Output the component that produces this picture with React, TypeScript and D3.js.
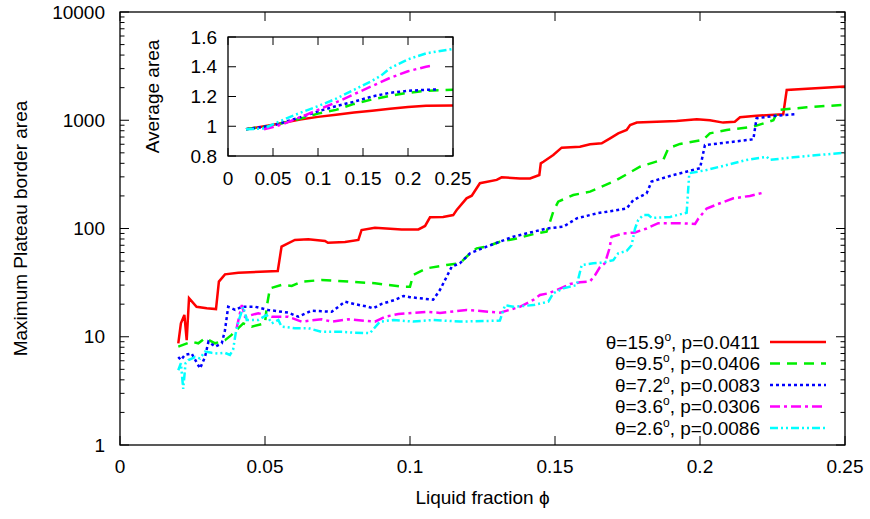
import React, { useEffect, useRef } from 'react';
import * as d3 from 'd3';

type Pt = [number, number];

// main panel: [liquid fraction, max Plateau border area]
const maxTheta159: Pt[] = [
  [0.0201, 8.7], [0.021, 13.3], [0.0222, 15.9], [0.023, 9.3], [0.0238, 22.7], [0.0264, 18.9],
  [0.0299, 18.3], [0.0331, 18.0], [0.0341, 32.3], [0.0362, 37.7], [0.0408, 39.1], [0.0544, 40.5],
  [0.0557, 67.9], [0.0603, 78.3], [0.0649, 79.4], [0.0707, 76.6], [0.0717, 73.7], [0.0776, 75],
  [0.0822, 78.3], [0.0833, 96.9], [0.0879, 101.8], [0.0971, 98.1], [0.1029, 98.1], [0.1052, 105.5],
  [0.1069, 126.8], [0.1114, 128], [0.1149, 133], [0.1161, 148], [0.1195, 190], [0.1213, 201],
  [0.1241, 262], [0.1299, 281], [0.1316, 297], [0.1379, 290], [0.1414, 290], [0.1446, 312],
  [0.1451, 400], [0.146, 414], [0.1494, 477], [0.1523, 558], [0.1586, 570], [0.1621, 599],
  [0.1661, 612], [0.169, 681], [0.1718, 757], [0.1747, 813], [0.1759, 904], [0.1782, 951],
  [0.1919, 984], [0.1989, 1021], [0.2034, 1000], [0.208, 951], [0.212, 970], [0.2138, 1065],
  [0.2195, 1101], [0.2287, 1135], [0.2299, 1905], [0.25, 2050],
];
const maxTheta95: Pt[] = [
  [0.0201, 8.1], [0.0247, 9.0], [0.027, 8.7], [0.0293, 9.7], [0.0328, 8.7], [0.0362, 9.3],
  [0.0385, 10.4], [0.0408, 12.0], [0.0425, 13.3], [0.0454, 12.4], [0.05, 13.3], [0.0506, 18.9],
  [0.0517, 28.0], [0.0557, 30.1], [0.0592, 29.5], [0.0626, 32.3], [0.0695, 33.4], [0.0788, 32.3],
  [0.0879, 31.2], [0.0971, 29.0], [0.1, 29.0], [0.1011, 37.2], [0.1058, 42.9], [0.1126, 46.0],
  [0.1172, 47.7], [0.1207, 59], [0.123, 65.6], [0.1264, 68], [0.131, 75.5], [0.1368, 81],
  [0.1437, 90.3], [0.1471, 93.4], [0.1483, 115.6], [0.1494, 143], [0.1511, 177], [0.1563, 204],
  [0.1621, 219], [0.1713, 281], [0.1793, 372], [0.1874, 435], [0.1891, 551], [0.1931, 604],
  [0.2011, 658], [0.2034, 757], [0.2092, 813], [0.2184, 873], [0.2253, 1000], [0.227, 1245],
  [0.2368, 1318], [0.25, 1390],
];
const maxTheta72: Pt[] = [
  [0.0201, 6.5], [0.021, 6.1], [0.0224, 6.8], [0.0247, 7.0], [0.0276, 5.1], [0.0293, 6.5],
  [0.0305, 9.0], [0.0328, 8.1], [0.0351, 8.7], [0.0362, 11.5], [0.0373, 18.9], [0.0397, 17.7],
  [0.042, 18.9], [0.0466, 18.9], [0.0511, 17.7], [0.058, 16.7], [0.0615, 15.3], [0.0661, 17.4],
  [0.073, 17.0], [0.0776, 21.1], [0.081, 20], [0.0856, 18.9], [0.0873, 18.3], [0.0902, 20.1],
  [0.0948, 21.9], [0.0977, 23.8], [0.1, 23.2], [0.108, 22.0], [0.1103, 27], [0.1115, 31.2],
  [0.1144, 44.4], [0.1172, 47.7], [0.1207, 59], [0.1264, 68], [0.1356, 84], [0.1437, 95],
  [0.1471, 100], [0.1529, 104], [0.1575, 124], [0.1644, 138], [0.1747, 153], [0.177, 183],
  [0.1816, 211], [0.1833, 271], [0.1908, 312], [0.2, 360], [0.2017, 590], [0.2069, 612],
  [0.2184, 667], [0.2195, 1042], [0.2253, 1094], [0.2328, 1135],
];
const maxTheta36: Pt[] = [
  [0.0402, 12], [0.042, 19.6], [0.0431, 15.3], [0.0477, 16.5], [0.0523, 15.3], [0.058, 15.3],
  [0.0626, 13.8], [0.0695, 14.5], [0.073, 13.8], [0.0787, 14.5], [0.0879, 13.8], [0.0914, 15.3],
  [0.096, 16.2], [0.1058, 17.0], [0.1103, 16.6], [0.1195, 17.7], [0.131, 16.7], [0.1379, 18.9],
  [0.1425, 21.9], [0.1448, 24.3], [0.1477, 25.2], [0.1506, 27], [0.1552, 30.7], [0.1586, 31.8],
  [0.1621, 32.5], [0.1638, 37], [0.1655, 44], [0.1672, 47.7], [0.1688, 65.6], [0.1695, 84],
  [0.1736, 90], [0.1776, 92], [0.1816, 100], [0.1856, 112], [0.1931, 112], [0.1983, 110],
  [0.1994, 123], [0.2023, 153], [0.2069, 171], [0.2115, 190], [0.2172, 200], [0.2218, 214],
];
const maxTheta26: Pt[] = [
  [0.0201, 4.9], [0.021, 5.7], [0.0218, 3.3], [0.0226, 5.7], [0.0236, 6.1], [0.0259, 6.5],
  [0.0276, 6.3], [0.0293, 7.3], [0.0316, 7.1], [0.0339, 7.0], [0.0362, 7.1], [0.0379, 6.8],
  [0.039, 7.6], [0.0399, 10.8], [0.041, 14.3], [0.0425, 18.9], [0.0437, 14.3], [0.0477, 14.3],
  [0.0506, 15.9], [0.0523, 13.3], [0.0546, 14.3], [0.0557, 12.4], [0.0603, 12.0], [0.0649, 12.0],
  [0.0695, 11.1], [0.0764, 11.1], [0.081, 10.9], [0.0862, 10.8], [0.0891, 13.3], [0.0897, 13.8],
  [0.0943, 14.3], [0.1011, 13.8], [0.108, 14.3], [0.1172, 13.8], [0.131, 14.1], [0.1322, 17.7],
  [0.1328, 19.6], [0.1356, 18.9], [0.1425, 19.6], [0.1477, 21.1], [0.1494, 25.2], [0.1529, 28],
  [0.1575, 30], [0.1592, 46], [0.1632, 47.7], [0.1667, 48.5], [0.1701, 51], [0.1718, 59],
  [0.1747, 62], [0.1764, 70], [0.1776, 100], [0.1787, 120], [0.1804, 133], [0.1822, 133],
  [0.1834, 125], [0.1897, 128], [0.1954, 140], [0.1963, 324], [0.2023, 347], [0.2092, 386],
  [0.2161, 430], [0.223, 460], [0.2241, 430], [0.2322, 455], [0.25, 502],
];

// inset: [liquid fraction, average area]
const avgTheta159: Pt[] = [
  [0.02, 0.98], [0.05, 1.01], [0.08, 1.045], [0.1, 1.063], [0.12, 1.078], [0.14, 1.092],
  [0.16, 1.104], [0.18, 1.118], [0.2, 1.13], [0.22, 1.138], [0.25, 1.14],
];
const avgTheta95: Pt[] = [
  [0.02, 0.98], [0.05, 1.005], [0.08, 1.05], [0.1, 1.085], [0.12, 1.11], [0.14, 1.15],
  [0.16, 1.18], [0.18, 1.205], [0.2, 1.225], [0.22, 1.238], [0.25, 1.245],
];
const avgTheta72: Pt[] = [
  [0.02, 0.98], [0.05, 1.005], [0.08, 1.06], [0.1, 1.1], [0.12, 1.135], [0.14, 1.165],
  [0.16, 1.2], [0.18, 1.225], [0.2, 1.238], [0.22, 1.245], [0.233, 1.248],
];
const avgTheta36: Pt[] = [
  [0.04, 0.98], [0.05, 0.995], [0.06, 1.012], [0.08, 1.06], [0.1, 1.11], [0.12, 1.16],
  [0.14, 1.215], [0.16, 1.27], [0.18, 1.325], [0.2, 1.37], [0.22, 1.4], [0.225, 1.405],
];
const avgTheta26: Pt[] = [
  [0.02, 0.98], [0.04, 0.985], [0.06, 1.04], [0.08, 1.09], [0.1, 1.135], [0.12, 1.185],
  [0.14, 1.245], [0.16, 1.305], [0.17, 1.34], [0.18, 1.39], [0.2, 1.45], [0.22, 1.49], [0.25, 1.52],
];

const thetaLabels = ['15.9', '9.5', '7.2', '3.6', '2.6'];
const pLabels = ['0.0411', '0.0406', '0.0083', '0.0306', '0.0086'];
const mainSeries = [maxTheta159, maxTheta95, maxTheta72, maxTheta36, maxTheta26];
const insetSeries = [avgTheta159, avgTheta95, avgTheta72, avgTheta36, avgTheta26];
const colors = ['#ff0000', '#00ee00', '#0000ff', '#ff00ff', '#00ffff'];
const dashes = ['none', '10,7', '3,3', '10,4,3,4', '8,3,2,3,2,3'];

const xTicks = [0, 0.05, 0.1, 0.15, 0.2, 0.25];
const yTicks = [1, 10, 100, 1000, 10000];
const insetYTicks = [0.8, 1, 1.2, 1.4, 1.6];

const App = () => {
  const ref = useRef<SVGSVGElement>(null);

  useEffect(() => {
    document.body.style.margin = '0';
    const svg = d3.select(ref.current);
    svg.selectAll('*').remove();

    const left = 120, right = 845, top = 12, bottom = 445;
    const x = d3.scaleLinear().domain([0, 0.25]).range([left, right]);
    const y = d3.scaleLog().domain([1, 10000]).range([bottom, top]);

    const g = svg.append('g');

    // ticks (mirrored, pointing inward)
    const minor = y.ticks();
    minor.forEach((v) => {
      const major = yTicks.includes(v);
      const len = major ? 9 : 4.5;
      g.append('line').attr('x1', left).attr('x2', left + len).attr('y1', y(v)).attr('y2', y(v)).attr('stroke', '#000');
      g.append('line').attr('x1', right).attr('x2', right - len).attr('y1', y(v)).attr('y2', y(v)).attr('stroke', '#000');
    });
    xTicks.forEach((v) => {
      g.append('line').attr('x1', x(v)).attr('x2', x(v)).attr('y1', bottom).attr('y2', bottom - 9).attr('stroke', '#000');
      g.append('line').attr('x1', x(v)).attr('x2', x(v)).attr('y1', top).attr('y2', top + 9).attr('stroke', '#000');
    });

    g.selectAll('.ylab')
      .data(yTicks)
      .enter()
      .append('text')
      .attr('x', left - 15)
      .attr('y', (d) => y(d) + 6.5)
      .attr('text-anchor', 'end')
      .text((d) => String(d));

    g.selectAll('.xlab')
      .data(xTicks)
      .enter()
      .append('text')
      .attr('x', (d) => x(d))
      .attr('y', 473)
      .attr('text-anchor', 'middle')
      .text((d) => String(d));

    g.append('text')
      .attr('x', (left + right) / 2)
      .attr('y', 504)
      .attr('text-anchor', 'middle')
      .text('Liquid fraction ϕ');

    g.append('text')
      .attr('transform', `translate(27,${(top + bottom) / 2}) rotate(-90)`)
      .attr('text-anchor', 'middle')
      .text('Maximum Plateau border area');

    // curves
    const line = d3.line<Pt>().x((d) => x(d[0])).y((d) => y(d[1]));
    mainSeries.forEach((s, i) => {
      g.append('path')
        .datum(s)
        .attr('d', line)
        .attr('fill', 'none')
        .attr('stroke', colors[i])
        .attr('stroke-width', 2.5)
        .attr('stroke-dasharray', dashes[i]);
    });

    // legend
    thetaLabels.forEach((t, i) => {
      const ry = 342 + i * 21.5;
      const txt = g.append('text').attr('x', 760).attr('y', ry + 6.5).attr('text-anchor', 'end');
      txt.append('tspan').text(`θ=${t}`);
      txt.append('tspan').attr('font-size', 12).attr('dy', -8).text('o');
      txt.append('tspan').attr('dy', 8).text(`, p=${pLabels[i]}`);
      g.append('line')
        .attr('x1', 770).attr('x2', 826).attr('y1', ry).attr('y2', ry)
        .attr('stroke', colors[i])
        .attr('stroke-width', 2.5)
        .attr('stroke-dasharray', dashes[i]);
    });

    g.append('rect')
      .attr('x', left).attr('y', top)
      .attr('width', right - left).attr('height', bottom - top)
      .attr('fill', 'none').attr('stroke', '#000').attr('stroke-width', 1.3);

    // inset
    const il = 228, ir = 453, it = 37, ib = 156;
    const ix = d3.scaleLinear().domain([0, 0.25]).range([il, ir]);
    const iy = d3.scaleLinear().domain([0.8, 1.6]).range([ib, it]);
    const ins = svg.append('g');
    ins.append('rect').attr('x', il).attr('y', it).attr('width', ir - il).attr('height', ib - it).attr('fill', '#fff');

    insetYTicks.forEach((v) => {
      ins.append('line').attr('x1', il).attr('x2', il + 8).attr('y1', iy(v)).attr('y2', iy(v)).attr('stroke', '#000');
      ins.append('line').attr('x1', ir).attr('x2', ir - 8).attr('y1', iy(v)).attr('y2', iy(v)).attr('stroke', '#000');
      ins.append('text').attr('x', il - 11).attr('y', iy(v) + 6.5).attr('text-anchor', 'end').text(String(v));
    });
    xTicks.forEach((v) => {
      ins.append('line').attr('x1', ix(v)).attr('x2', ix(v)).attr('y1', ib).attr('y2', ib - 8).attr('stroke', '#000');
      ins.append('line').attr('x1', ix(v)).attr('x2', ix(v)).attr('y1', it).attr('y2', it + 8).attr('stroke', '#000');
      ins.append('text').attr('x', ix(v)).attr('y', 185).attr('text-anchor', 'middle').text(String(v));
    });
    ins.append('text')
      .attr('transform', `translate(159,${(it + ib) / 2}) rotate(-90)`)
      .attr('text-anchor', 'middle')
      .text('Average area');

    const iline = d3.line<Pt>().x((d) => ix(d[0])).y((d) => iy(d[1]));
    insetSeries.forEach((s, i) => {
      ins.append('path')
        .datum(s)
        .attr('d', iline)
        .attr('fill', 'none')
        .attr('stroke', colors[i])
        .attr('stroke-width', 2.5)
        .attr('stroke-dasharray', dashes[i]);
    });

    ins.append('rect')
      .attr('x', il).attr('y', it).attr('width', ir - il).attr('height', ib - it)
      .attr('fill', 'none').attr('stroke', '#000').attr('stroke-width', 1.3);
  }, []);

  return (
    <svg
      ref={ref}
      width={870}
      height={519}
      style={{ display: 'block', background: '#fff' }}
      fontFamily="'Liberation Sans', Arial, sans-serif"
      fontSize={19}
    />
  );
};

export default App;
